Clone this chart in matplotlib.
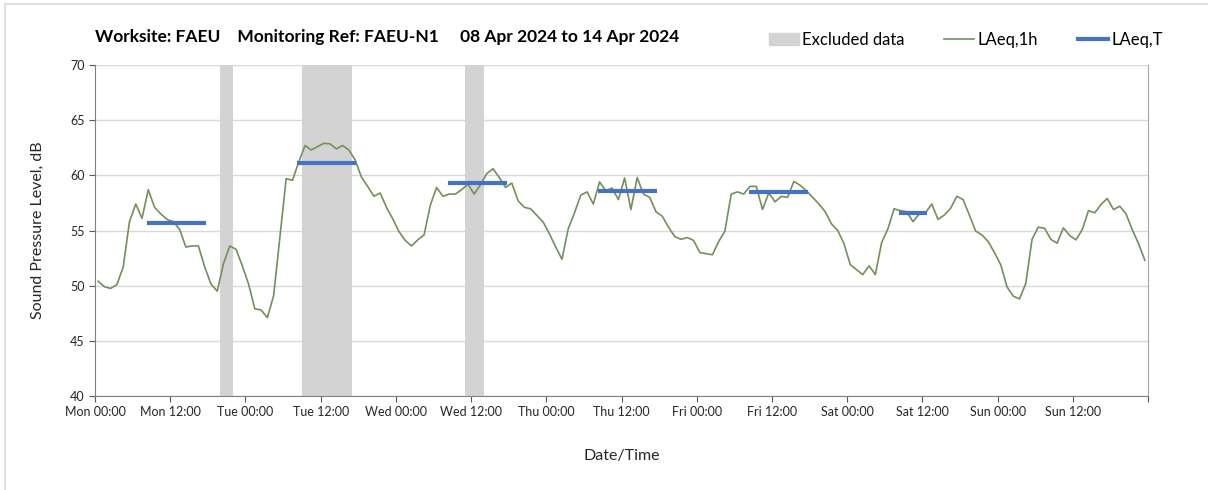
import numpy as np
import matplotlib
matplotlib.use("Agg")
import matplotlib.pyplot as plt
from matplotlib.patches import Patch
from matplotlib.lines import Line2D

plt.rcParams['font.family'] = ['Lato', 'DejaVu Sans']

# hourly LAeq,1h values, Mon 00:00 .. Sun 23:00 (one per hour)
laeq_1h = [
    50.4, 49.9, 49.75, 50.1, 51.7, 55.8, 57.4, 56.1, 58.7, 57.1, 56.5, 56.0,
    55.8, 55.1, 53.5, 53.6, 53.6, 51.7, 50.15, 49.5, 52.0, 53.6, 53.3, 51.8,
    50.15, 47.9, 47.8, 47.1, 49.1, 54.4, 59.7, 59.55, 61.2, 62.7, 62.3, 62.6,
    62.9, 62.85, 62.4, 62.7, 62.3, 61.4, 59.85, 59.0, 58.1, 58.4, 57.1, 56.06,
    54.9, 54.1, 53.6, 54.15, 54.6, 57.3, 58.9, 58.1, 58.3, 58.3, 58.7, 59.2,
    58.3, 59.15, 60.15, 60.6, 59.8, 58.9, 59.3, 57.7, 57.1, 56.97, 56.36, 55.76,
    54.7, 53.5, 52.4, 55.15, 56.6, 58.2, 58.5, 57.4, 59.4, 58.6, 58.85, 57.8,
    59.76, 56.9, 59.8, 58.3, 58.0, 56.7, 56.3, 55.3, 54.45, 54.2, 54.36, 54.1,
    53.0, 52.9, 52.8, 54.0, 54.95, 58.3, 58.5, 58.3, 59.0, 59.0, 56.9, 58.4,
    57.6, 58.1, 58.0, 59.45, 59.1, 58.6, 58.0, 57.4, 56.7, 55.6, 55.0, 53.8,
    51.9, 51.45, 51.0, 51.8, 51.0, 53.9, 55.15, 56.97, 56.8, 56.7, 55.8, 56.5,
    56.6, 57.4, 56.0, 56.4, 57.0, 58.1, 57.8, 56.4, 54.95, 54.6, 54.0, 53.0,
    51.9, 49.9, 49.05, 48.8, 50.2, 54.2, 55.3, 55.2, 54.2, 53.85, 55.24, 54.55,
    54.15, 55.06, 56.8, 56.6, 57.36, 57.9, 56.9, 57.2, 56.5, 55.06, 53.8, 52.3,
]

# excluded periods (start hour, end hour)
excl_start = [20, 33, 59]
excl_end = [22, 41, 62]

# LAeq,T periods (first hour, last hour, level)
t_start = [8, 32, 56, 80, 104, 128]
t_end = [17, 41, 65, 89, 113, 132]
t_level = [55.65, 61.15, 59.3, 58.55, 58.45, 56.6]

days = ["Mon", "Tue", "Wed", "Thu", "Fri", "Sat", "Sun"]
tick_labels = [f"{d} {t}" for d in days for t in ("00:00", "12:00")] + [""]

hours = np.arange(len(laeq_1h)) + 0.5

fig = plt.figure(figsize=(12.08, 4.9), dpi=100)
# chart-area frame (only left and top edges fall inside the picture)
fig.lines.append(Line2D([5 / 1208, 5 / 1208], [0, 1 - 4 / 490], transform=fig.transFigure,
                        color="#d9d9d9", lw=1.2))
fig.lines.append(Line2D([5 / 1208, 1], [1 - 4 / 490, 1 - 4 / 490], transform=fig.transFigure,
                        color="#d9d9d9", lw=1.2))

ax = fig.add_axes([95 / 1208, 1 - 396 / 490, (1148 - 95) / 1208, (396 - 65) / 490])

for s, e in zip(excl_start, excl_end):
    ax.axvspan(s, e, color="#d3d3d3", lw=0, zorder=1)

ax.plot(hours, laeq_1h, color="#72905a", lw=1.2, zorder=3)
for s, e, v in zip(t_start, t_end, t_level):
    ax.plot([s + 0.3, e + 0.7], [v, v], color="#4472c4", lw=3, zorder=4,
            solid_capstyle="butt")

ax.set_xlim(0, 168)
ax.set_ylim(40, 70)
ax.set_yticks(np.arange(40, 71, 5))
ax.set_xticks(np.arange(0, 169, 12))
ax.set_xticklabels(tick_labels)
ax.set_xticks(np.arange(24, 168, 24), minor=True)
ax.grid(axis="y", color="#d9d9d9", lw=1)
ax.grid(axis="x", which="minor", color="#d9d9d9", lw=1)
ax.set_axisbelow(True)

ax.tick_params(axis="both", which="major", labelsize=9, colors="#595959",
               labelcolor="#262626", length=4, width=0.8)
ax.tick_params(axis="x", which="minor", length=0)
for side in ("left", "bottom"):
    ax.spines[side].set_color("#808080")
ax.spines["right"].set_color("#a6a6a6")
ax.spines["top"].set_visible(False)

ax.set_ylabel("Sound Pressure Level, dB", fontsize=11.5, color="#262626", labelpad=18)
ax.set_xlabel("Date/Time", fontsize=11.5, color="#262626", labelpad=22)

fig.text(95 / 1208, 1 - 37 / 490,
         "Worksite: FAEU    Monitoring Ref: FAEU-N1     08 Apr 2024 to 14 Apr 2024",
         fontsize=12.5, fontweight="bold", va="center", ha="left")

handles = [Patch(color="#d3d3d3", label="Excluded data"),
           Line2D([], [], color="#72905a", lw=1.2, label="LAeq,1h"),
           Line2D([], [], color="#4472c4", lw=3, label="LAeq,T")]
fig.legend(handles=handles, ncol=3, frameon=False, fontsize=12,
           loc="center right", bbox_to_anchor=(1178 / 1208, 1 - 40 / 490),
           handlelength=1.8, handletextpad=0.2, columnspacing=2.4)

fig.savefig("out.png", dpi=100)
